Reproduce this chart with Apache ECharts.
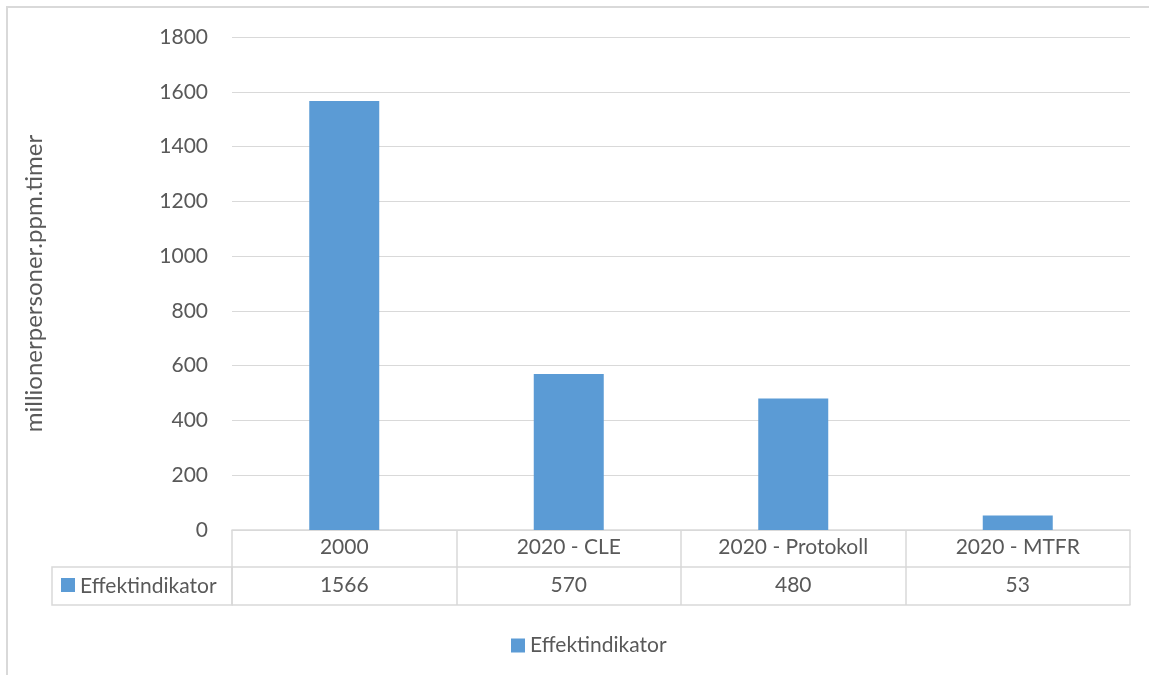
<!DOCTYPE html>
<html>
<head>
<meta charset="utf-8">
<script src="https://cdn.jsdelivr.net/npm/echarts@6/dist/echarts.min.js"></script>
<style>
  html, body { margin: 0; padding: 0; background: #fff; }
  #chart { width: 1149px; height: 675px; }
</style>
</head>
<body>
<div id="chart"></div>
<script>
var categories = ['2000', '2020 - CLE', '2020 - Protokoll', '2020 - MTFR'];
var values = [1566, 570, 480, 53];
var seriesName = 'Effektindikator';
var yAxisName = 'millionerpersoner.ppm.timer';

var txtColor = '#595959';
var lineColor = '#d9d9d9';
var barColor = '#5b9bd5';
var font = 'Lato';
var fs = 21;

var myChart = echarts.init(document.getElementById('chart'));
var option = {
	animation: false,
	textStyle: { fontFamily: font },
	grid: { left: 232, right: 19, top: 37, bottom: 145 },
	legend: {
		data: [seriesName],
		left: 506,
		top: 630,
		icon: 'rect',
		itemWidth: 14,
		itemHeight: 14,
		itemGap: 6,
		textStyle: { fontSize: fs, color: txtColor, fontFamily: font }
	},
	xAxis: [
		{
			type: 'category',
			data: categories,
			position: 'bottom',
			axisLine: { show: true, lineStyle: { color: lineColor, width: 1.5 } },
			axisTick: { show: true, length: 75, interval: 0, lineStyle: { color: lineColor, width: 1.5 } },
			axisLabel: { interval: 0, margin: 7, fontSize: fs, color: txtColor, fontFamily: font }
		},
		{
			// verdirad i datatabellen
			type: 'category',
			data: values.map(function (v) { return String(v); }),
			position: 'bottom',
			offset: 37,
			axisLine: { show: true, lineStyle: { color: lineColor, width: 1.5 } },
			axisTick: { show: false },
			axisLabel: { interval: 0, margin: 8, fontSize: fs, color: txtColor, fontFamily: font }
		},
		{
			type: 'category',
			data: categories,
			position: 'bottom',
			offset: 75,
			axisLine: { show: true, lineStyle: { color: lineColor, width: 1.5 } },
			axisTick: { show: false },
			axisLabel: { show: false }
		}
	],
	yAxis: {
		type: 'value',
		min: 0,
		max: 1800,
		interval: 200,
		name: yAxisName,
		nameLocation: 'middle',
		nameGap: 186,
		nameTextStyle: { fontSize: 24, color: txtColor, fontFamily: font },
		axisLine: { show: false },
		axisTick: { show: false },
		axisLabel: {
			margin: 24, fontSize: fs, color: txtColor, fontFamily: font,
			formatter: function (v) { return String(v); }
		},
		splitLine: { lineStyle: { color: lineColor, width: 1 } }
	},
	series: [
		{
			name: seriesName,
			type: 'bar',
			xAxisIndex: 0,
			data: values,
			barWidth: 70,
			itemStyle: { color: barColor }
		}
	],
	graphic: [
		{
			type: 'rect',
			shape: { x: 7, y: 7, width: 1160, height: 700 },
			style: { fill: 'none', stroke: lineColor, lineWidth: 2 },
			silent: true
		},
		{
			type: 'rect',
			shape: { x: 52, y: 567, width: 180, height: 38 },
			style: { fill: 'none', stroke: lineColor, lineWidth: 1.5 },
			silent: true
		},
		{
			type: 'rect',
			shape: { x: 61, y: 578, width: 14, height: 14 },
			style: { fill: barColor }
		},
		{
			type: 'text',
			x: 80,
			y: 586,
			style: { text: seriesName, fontSize: fs, fill: txtColor, fontFamily: font, verticalAlign: 'middle' }
		}
	]
};
myChart.setOption(option);
window.onresize = myChart.resize;
</script>
</body>
</html>
